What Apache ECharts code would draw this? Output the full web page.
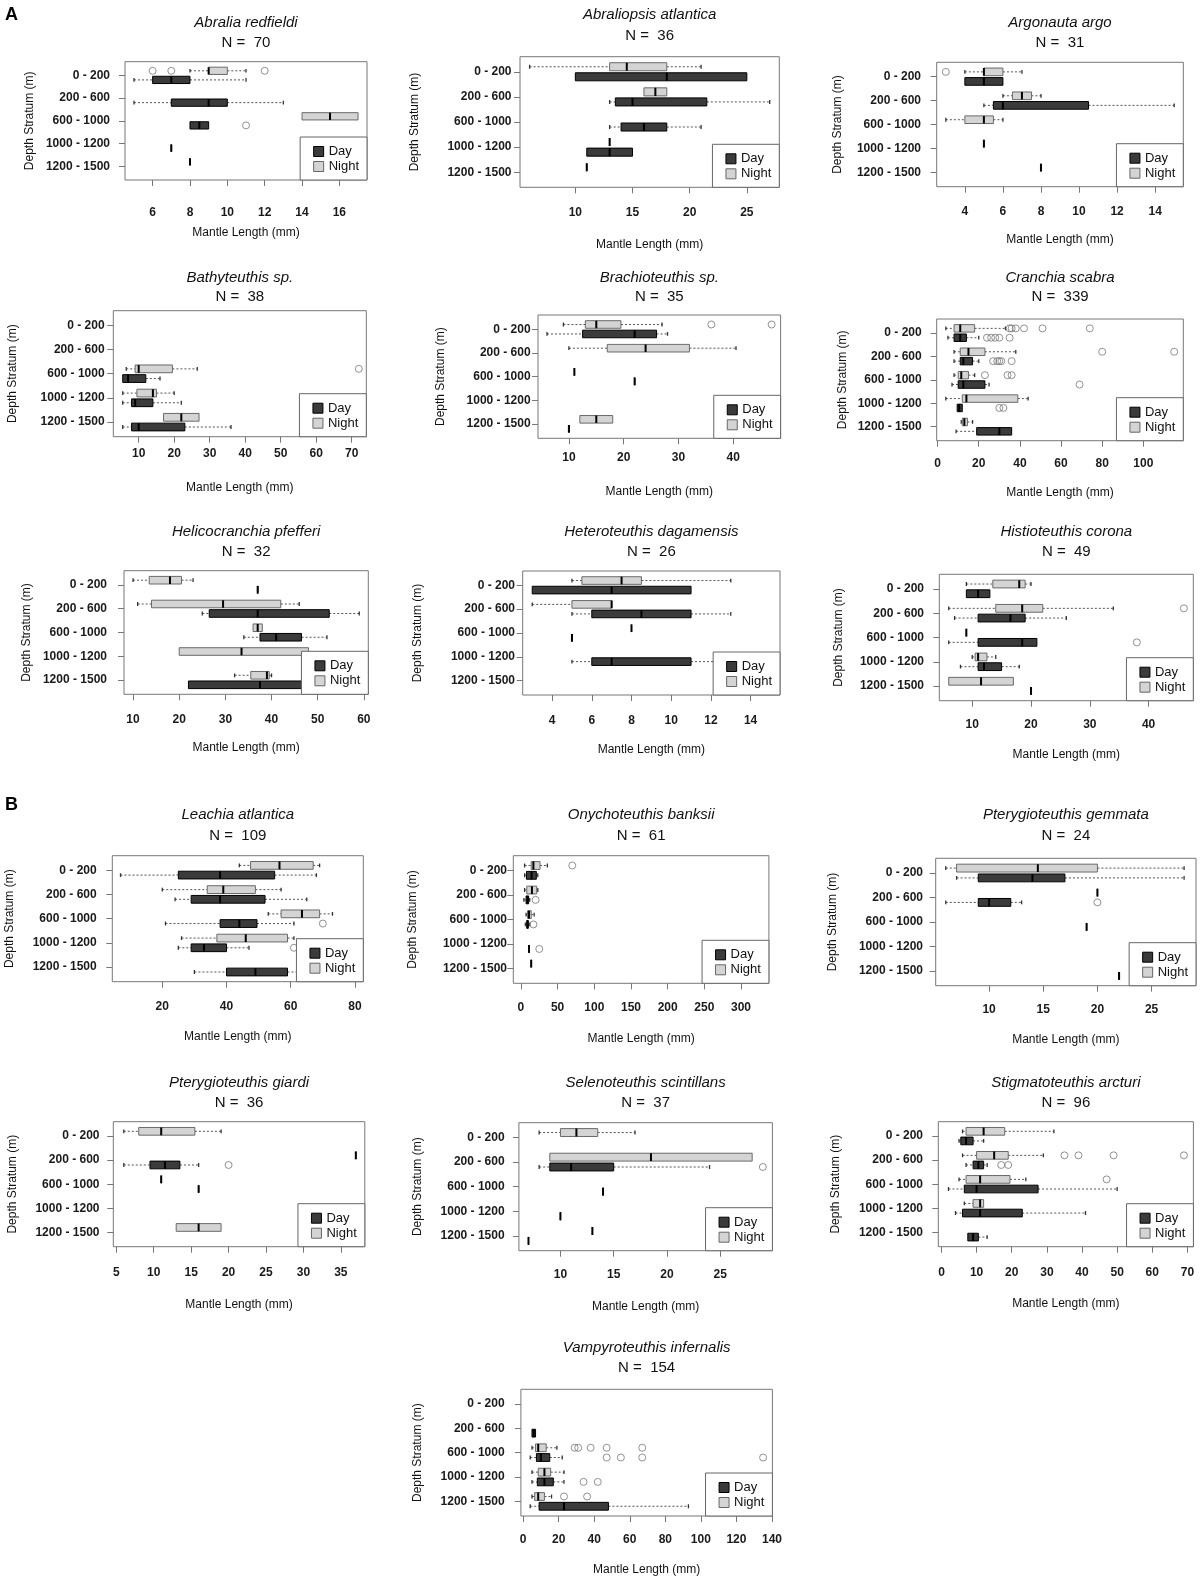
<!DOCTYPE html>
<html>
<head>
<meta charset="utf-8">
<script src="https://cdn.jsdelivr.net/npm/echarts/dist/echarts.min.js"></script>
<style>html,body{margin:0;padding:0;background:#fff}#chart{width:1200px;height:1582px}</style>
</head>
<body>
<div id="chart"></div>
<script>
// ---------- categories / labels ----------
const strata = ['0 - 200', '200 - 600', '600 - 1000', '1000 - 1200', '1200 - 1500'];
const species = ['Abralia redfieldi', 'Abraliopsis atlantica', 'Argonauta argo', 'Bathyteuthis sp.',
  'Brachioteuthis sp.', 'Cranchia scabra', 'Helicocranchia pfefferi', 'Heteroteuthis dagamensis',
  'Histioteuthis corona', 'Leachia atlantica', 'Onychoteuthis banksii', 'Pterygioteuthis gemmata',
  'Pterygioteuthis giardi', 'Selenoteuthis scintillans', 'Stigmatoteuthis arcturi', 'Vampyroteuthis infernalis'];
const sampleSizes = [70, 36, 31, 38, 35, 339, 32, 26, 49, 109, 61, 24, 36, 37, 96, 154];
const xTickValues = [
  [6, 8, 10, 12, 14, 16], [10, 15, 20, 25], [4, 6, 8, 10, 12, 14],
  [10, 20, 30, 40, 50, 60, 70], [10, 20, 30, 40], [0, 20, 40, 60, 80, 100],
  [10, 20, 30, 40, 50, 60], [4, 6, 8, 10, 12, 14], [10, 20, 30, 40],
  [20, 40, 60, 80], [0, 50, 100, 150, 200, 250, 300], [10, 15, 20, 25],
  [5, 10, 15, 20, 25, 30, 35], [10, 15, 20, 25], [0, 10, 20, 30, 40, 50, 60, 70],
  [0, 20, 40, 60, 80, 100, 120, 140]
];

// ---------- box statistics per stratum: [min, q1, median, q3, max] ----------
const abraliaNight = [[8, 9, 9, 10, 11], null, [14, 14, 15.5, 17, 17], null, [8, 8, 8, 8, 8]];
const abraliaDay = [[5, 6, 7, 8, 11], [5, 7, 9, 10, 13], [8, 8, 8.5, 9, 9], [7, 7, 7, 7, 7], null];
const abraliaNightOut = [[0, 6], [0, 7], [0, 12]];
const abraliaDayOut = [[2, 11]];

const abraliopsisNight = [[6, 13, 14.5, 18, 21], [16, 16, 17, 18, 18], null, [13, 13, 13, 13, 13], [11, 11, 11, 11, 11]];
const abraliopsisDay = [[10, 10, 18, 25, 25], [13, 13.5, 15, 21.5, 27], [13, 14, 16, 18, 21], [11, 11, 13, 15, 15], null];
const abraliopsisNightOut = [];
const abraliopsisDayOut = [];

const argonautaNight = [[4, 5, 5, 6, 7], [6, 6.5, 7, 7.5, 8], [3, 4, 5, 5.5, 6], [5, 5, 5, 5, 5], [8, 8, 8, 8, 8]];
const argonautaDay = [[4, 4, 5, 6, 6], [5, 5.5, 6, 10.5, 15], null, null, null];
const argonautaNightOut = [[0, 3]];
const argonautaDayOut = [];

const bathyteuthisNight = [null, null, [6.5, 9, 10, 19.5, 26.5], [5.5, 9.5, 14, 15, 20], [17, 17, 22, 27, 27]];
const bathyteuthisDay = [null, null, [5.5, 5.5, 7, 12, 16], [5.5, 8, 9, 14, 22], [5.5, 8, 10, 23, 36]];
const bathyteuthisNightOut = [[2, 72]];
const bathyteuthisDayOut = [];

const brachioteuthisNight = [[9, 13, 15, 19.5, 27], [10, 17, 24, 32, 40.5], [11, 11, 11, 11, 11], null, [12, 12, 15, 18, 18]];
const brachioteuthisDay = [[6, 12.5, 22, 26, 28], null, [22, 22, 22, 22, 22], null, [10, 10, 10, 10, 10]];
const brachioteuthisNightOut = [[0, 36], [0, 47]];
const brachioteuthisDayOut = [];

const cranchiaNight = [[4, 8, 11, 18, 33], [8, 11, 15, 23, 38], [8, 10, 11.5, 15, 18], [4, 12, 14, 39, 44], [11.5, 12, 13, 14.5, 17]];
const cranchiaDay = [[5, 8, 11, 14, 20], [8, 11, 12.5, 17, 20], [7, 10, 12.5, 23, 25], [9.5, 9.5, 10.5, 12, 12], [9, 19, 30, 36, 36]];
const cranchiaNightOut = [[0, 35], [0, 36], [0, 38], [0, 42], [0, 51], [0, 74], [1, 80], [1, 115], [2, 23], [2, 34], [2, 36]];
const cranchiaDayOut = [[0, 24], [0, 26], [0, 28], [0, 30], [0, 35], [1, 27], [1, 29], [1, 30], [1, 31], [1, 36], [2, 69], [3, 30], [3, 32]];

const helicocranchiaNight = [[10, 13.5, 18, 20.5, 23], [11, 14, 29.5, 42, 46], [36, 36, 37, 38, 38], [20, 20, 33.5, 48, 48], [32, 35.5, 39, 39.5, 40]];
const helicocranchiaDay = [[37, 37, 37, 37, 37], [25, 26.5, 37, 52.5, 59], [34, 37.5, 41, 46.5, 52], null, [22, 22, 37.5, 48, 48]];
const helicocranchiaNightOut = [];
const helicocranchiaDayOut = [];

const heteroteuthisNight = [[5, 5.5, 7.5, 8.5, 13], [3, 5, 7, 7, 7], [8, 8, 8, 8, 8], null, null];
const heteroteuthisDay = [[3, 3, 7, 11, 11], [5, 6, 8.5, 11, 13], [5, 5, 5, 5, 5], [5, 6, 7, 11, 15], null];
const heteroteuthisNightOut = [];
const heteroteuthisDayOut = [];

const histioteuthisNight = [[9, 13.5, 18, 19, 20], [6, 14, 18.5, 22, 34], [9, 9, 9, 9, 9], [10, 10.5, 11, 12.5, 14], [6, 6, 11.5, 17, 17]];
const histioteuthisDay = [[9, 9, 11, 13, 13], [7, 11, 16.5, 19, 26], [6, 11, 18.5, 21, 21], [8, 11, 12, 15, 18], [20, 20, 20, 20, 20]];
const histioteuthisNightOut = [[1, 46]];
const histioteuthisDayOut = [[2, 38]];

const leachiaNight = [[44, 47.5, 56.5, 67, 69], [20, 34, 39, 49, 57], [53, 57, 63.5, 69, 73], [26, 37, 46, 59, 61], null];
const leachiaDay = [[7, 25, 38, 55, 68], [24, 29, 38, 52, 65], [21, 38, 44, 49.5, 61], [25, 29, 33, 40, 47], [30, 40, 49, 59, 80]];
const leachiaNightOut = [];
const leachiaDayOut = [[2, 70], [3, 61]];

const onychoteuthisNight = [[5, 14, 17, 26, 36], [5, 8, 15, 21.5, 23], [7, 9, 11, 14, 18], null, [14, 14, 14, 14, 14]];
const onychoteuthisDay = [[5, 7.5, 14.5, 21, 23], [4, 7, 9, 10.5, 12], [6, 8, 9, 10, 12], [11, 11, 11, 11, 11], null];
const onychoteuthisNightOut = [[0, 70]];
const onychoteuthisDayOut = [[1, 20], [2, 17], [3, 25]];

const ptGemmataNight = [[6, 7, 14.5, 20, 28], [20, 20, 20, 20, 20], null, null, null];
const ptGemmataDay = [[7, 9, 14, 17, 28], [6, 9, 10, 12, 13], [19, 19, 19, 19, 19], null, [22, 22, 22, 22, 22]];
const ptGemmataNightOut = [];
const ptGemmataDayOut = [[1, 20]];

const ptGiardiNight = [[6, 8, 11, 15.5, 19], [37, 37, 37, 37, 37], [11, 11, 11, 11, 11], null, [13, 13, 16, 19, 19]];
const ptGiardiDay = [null, [6, 9.5, 11.5, 13.5, 16], [16, 16, 16, 16, 16], null, null];
const ptGiardiNightOut = [];
const ptGiardiDayOut = [[1, 20]];

const selenoteuthisNight = [[8, 10, 11.5, 13.5, 17], [9, 9, 18.5, 28, 28], null, null, [13, 13, 13, 13, 13]];
const selenoteuthisDay = [null, [8, 9, 11, 15, 24], [14, 14, 14, 14, 14], [10, 10, 10, 10, 10], [7, 7, 7, 7, 7]];
const selenoteuthisNightOut = [];
const selenoteuthisDayOut = [[1, 29]];

const stigmatoteuthisNight = [[6, 7, 12, 18, 32], [6, 10, 15, 19, 29], [5, 7, 11, 19.5, 24], [6.5, 9, 11, 12, 12], null];
const stigmatoteuthisDay = [[5, 5.5, 7, 9, 12], [7, 9, 10.5, 12, 13], [2, 6.5, 10, 27.5, 50], [4, 6, 11, 23, 41], [7.5, 7.5, 9, 10.5, 13]];
const stigmatoteuthisNightOut = [[1, 35], [1, 39], [1, 49], [1, 69], [2, 47]];
const stigmatoteuthisDayOut = [[1, 17], [1, 19]];

const vampyroteuthisNight = [null, null, [5, 7, 8.5, 13, 19], [5, 8.5, 12, 15.5, 23], [5, 6.5, 8.5, 12, 16]];
const vampyroteuthisDay = [null, [5, 5, 6, 7, 7], [4, 7.5, 10, 15, 22], [5, 8, 12, 17, 23], [4, 9, 23, 48, 93]];
const vampyroteuthisNightOut = [[2, 29], [2, 31], [2, 38], [2, 47], [2, 67], [4, 23], [4, 36]];
const vampyroteuthisDayOut = [[2, 47], [2, 55], [2, 67], [2, 135], [3, 34], [3, 42]];

const nightStats = [abraliaNight, abraliopsisNight, argonautaNight, bathyteuthisNight, brachioteuthisNight,
  cranchiaNight, helicocranchiaNight, heteroteuthisNight, histioteuthisNight, leachiaNight, onychoteuthisNight,
  ptGemmataNight, ptGiardiNight, selenoteuthisNight, stigmatoteuthisNight, vampyroteuthisNight];
const dayStats = [abraliaDay, abraliopsisDay, argonautaDay, bathyteuthisDay, brachioteuthisDay,
  cranchiaDay, helicocranchiaDay, heteroteuthisDay, histioteuthisDay, leachiaDay, onychoteuthisDay,
  ptGemmataDay, ptGiardiDay, selenoteuthisDay, stigmatoteuthisDay, vampyroteuthisDay];
const nightOutliers = [abraliaNightOut, abraliopsisNightOut, argonautaNightOut, bathyteuthisNightOut,
  brachioteuthisNightOut, cranchiaNightOut, helicocranchiaNightOut, heteroteuthisNightOut, histioteuthisNightOut,
  leachiaNightOut, onychoteuthisNightOut, ptGemmataNightOut, ptGiardiNightOut, selenoteuthisNightOut,
  stigmatoteuthisNightOut, vampyroteuthisNightOut];
const dayOutliers = [abraliaDayOut, abraliopsisDayOut, argonautaDayOut, bathyteuthisDayOut,
  brachioteuthisDayOut, cranchiaDayOut, helicocranchiaDayOut, heteroteuthisDayOut, histioteuthisDayOut,
  leachiaDayOut, onychoteuthisDayOut, ptGemmataDayOut, ptGiardiDayOut, selenoteuthisDayOut,
  stigmatoteuthisDayOut, vampyroteuthisDayOut];

// ---------- layout (pixel boxes of each plot region and axis ranges) ----------
const panels = [
  {l: 125, t: 61.7, r: 367, b: 180, xMin: 4.52, xMax: 17.48, titleY: 23.3, nY: 43.3, yNameX: 30, xNameY: 233, xTickY: 212.3, yTickEnd: 110},
  {l: 520, t: 56.7, r: 779.3, b: 187.3, xMin: 5.16, xMax: 27.84, titleY: 15, nY: 36, yNameX: 415, xNameY: 245, xTickY: 213, yTickEnd: 511.5},
  {l: 936.7, t: 62.3, r: 1183.3, b: 186.7, xMin: 2.52, xMax: 15.48, titleY: 23.3, nY: 43.3, yNameX: 838, xNameY: 240, xTickY: 212, yTickEnd: 921},
  {l: 113.3, t: 310.7, r: 366.3, b: 436.7, xMin: 2.85, xMax: 74.1, titleY: 278, nY: 297, yNameX: 13, xNameY: 488, xTickY: 454, yTickEnd: 104.6},
  {l: 538, t: 315, r: 780.6, b: 438.3, xMin: 4.36, xMax: 48.64, titleY: 278, nY: 297, yNameX: 441, xNameY: 492, xTickY: 458, yTickEnd: 530.6},
  {l: 936.7, t: 319, r: 1183.3, b: 440.7, xMin: -0.44, xMax: 119.44, titleY: 278, nY: 297, yNameX: 843, xNameY: 493, xTickY: 464, yTickEnd: 921.7},
  {l: 124, t: 570.7, r: 368.3, b: 694.3, xMin: 8.04, xMax: 60.96, titleY: 532, nY: 552, yNameX: 27, xNameY: 748, xTickY: 720, yTickEnd: 107},
  {l: 522.7, t: 571, r: 780, b: 695, xMin: 2.52, xMax: 15.48, titleY: 532, nY: 552, yNameX: 418, xNameY: 750, xTickY: 720.7, yTickEnd: 515},
  {l: 939.3, t: 574.3, r: 1193.3, b: 700.7, xMin: 4.4, xMax: 47.6, titleY: 532, nY: 552, yNameX: 839, xNameY: 755, xTickY: 725, yTickEnd: 924},
  {l: 112.3, t: 855.7, r: 363.3, b: 981.7, xMin: 4.44, xMax: 82.6, titleY: 815, nY: 836, yNameX: 10, xNameY: 1037, xTickY: 1006.7, yTickEnd: 96.7},
  {l: 513.3, t: 855.7, r: 768.9, b: 983.3, xMin: -10.4, xMax: 338, titleY: 815, nY: 836, yNameX: 413, xNameY: 1039, xTickY: 1008, yTickEnd: 507},
  {l: 935.7, t: 858.3, r: 1196, b: 985.7, xMin: 5.07, xMax: 29.1, titleY: 815, nY: 836, yNameX: 833, xNameY: 1040, xTickY: 1010, yTickEnd: 923},
  {l: 113.3, t: 1121.7, r: 364.8, b: 1246.7, xMin: 4.6, xMax: 38.2, titleY: 1083, nY: 1103, yNameX: 13, xNameY: 1305, xTickY: 1273, yTickEnd: 99.5},
  {l: 518.9, t: 1122.7, r: 772.4, b: 1250.7, xMin: 6.1, xMax: 29.9, titleY: 1083, nY: 1103, yNameX: 418, xNameY: 1307, xTickY: 1275, yTickEnd: 504.6},
  {l: 938.3, t: 1121.7, r: 1193.4, b: 1246.7, xMin: -0.9, xMax: 71.7, titleY: 1083, nY: 1103, yNameX: 836, xNameY: 1304, xTickY: 1272.7, yTickEnd: 923},
  {l: 520.9, t: 1389.3, r: 772.4, b: 1516, xMin: -1.24, xMax: 140.24, titleY: 1348, nY: 1368, yNameX: 418, xNameY: 1570, xTickY: 1540, yTickEnd: 504.6}
];

const W = 1200, H = 1582;
const FONT = "'Liberation Sans', Arial, sans-serif";
const DAY_FILL = '#3b3b3b', DAY_STROKE = '#000';
const NIGHT_FILL = '#d4d4d4', NIGHT_STROKE = '#6a6a6a';
const BOX_H = 0.32, OFFSET = 0.2;

function makeRender(offset, fill, stroke) {
  return function (params, api) {
    const pos = api.value(0) + offset;
    const v = [api.value(1), api.value(2), api.value(3), api.value(4), api.value(5)];
    const p = v.map(x => api.coord([x, pos]));
    const cy = p[0][1];
    const h = Math.abs(api.size([0, BOX_H])[1]);
    const half = h / 2;
    const st = half * 0.5;
    const dash = {stroke: '#555', lineWidth: 1, lineDash: [2, 2]};
    const staple = {stroke: '#333', lineWidth: 1.3};
    const ch = [];
    if (v[0] < v[1]) {
      ch.push({type: 'line', shape: {x1: p[0][0], y1: cy, x2: p[1][0], y2: cy}, style: dash});
      ch.push({type: 'line', shape: {x1: p[0][0], y1: cy - st, x2: p[0][0], y2: cy + st}, style: staple});
    }
    if (v[4] > v[3]) {
      ch.push({type: 'line', shape: {x1: p[3][0], y1: cy, x2: p[4][0], y2: cy}, style: dash});
      ch.push({type: 'line', shape: {x1: p[4][0], y1: cy - st, x2: p[4][0], y2: cy + st}, style: staple});
    }
    ch.push({type: 'rect', shape: {x: p[1][0], y: cy - half, width: p[3][0] - p[1][0], height: h},
      style: {fill: fill, stroke: stroke, lineWidth: 1}});
    ch.push({type: 'line', shape: {x1: p[2][0], y1: cy - half, x2: p[2][0], y2: cy + half},
      style: {stroke: '#000', lineWidth: 2}});
    return {type: 'group', children: ch};
  };
}

const option = {
  animation: false,
  backgroundColor: '#fff',
  title: [
    {text: 'A', left: 5, top: 6, padding: 0, textStyle: {fontSize: 18, fontWeight: 'bold', color: '#000', fontFamily: FONT}},
    {text: 'B', left: 5, top: 796, padding: 0, textStyle: {fontSize: 18, fontWeight: 'bold', color: '#000', fontFamily: FONT}}
  ],
  grid: [], xAxis: [], yAxis: [], legend: [], series: []
};

panels.forEach((p, i) => {
  const fs = 15;
  option.title.push({
    text: species[i], subtext: 'N =  ' + sampleSizes[i],
    left: (p.l + p.r) / 2, top: p.titleY - fs / 2, padding: 0, textAlign: 'center',
    itemGap: (p.nY - p.titleY) - fs,
    textStyle: {fontSize: fs, fontStyle: 'italic', fontWeight: 'normal', color: '#111', fontFamily: FONT},
    subtextStyle: {fontSize: fs, color: '#111', fontFamily: FONT}
  });
  option.grid.push({left: p.l, top: p.t, width: p.r - p.l, height: p.b - p.t, show: true,
    borderColor: '#777', borderWidth: 1, backgroundColor: 'rgba(0,0,0,0)'});
  option.xAxis.push({
    type: 'value', gridIndex: i, min: p.xMin, max: p.xMax,
    name: 'Mantle Length (mm)', nameLocation: 'middle', nameGap: p.xNameY - 6 - p.b,
    nameTextStyle: {fontSize: 12, color: '#111', fontFamily: FONT},
    axisLine: {show: false, onZero: false},
    axisTick: {show: true, length: 6, customValues: xTickValues[i], lineStyle: {color: '#777'}},
    axisLabel: {customValues: xTickValues[i], margin: p.xTickY - 6 - p.b, fontSize: 12, fontWeight: 'bold',
      color: '#1a1a1a', fontFamily: FONT},
    splitLine: {show: false}
  });
  option.yAxis.push({
    type: 'value', gridIndex: i, min: 0.4, max: 5.6, inverse: true,
    name: 'Depth Stratum (m)', nameLocation: 'middle', nameGap: p.l - p.yNameX - 6,
    nameTextStyle: {fontSize: 12, color: '#111', fontFamily: FONT},
    axisLine: {show: false, onZero: false},
    axisTick: {show: true, length: 6, customValues: [1, 2, 3, 4, 5], lineStyle: {color: '#777'}},
    axisLabel: {customValues: [1, 2, 3, 4, 5], formatter: v => strata[Math.round(v) - 1] || '',
      margin: p.l - p.yTickEnd, fontSize: 12, fontWeight: 'bold', color: '#1a1a1a', fontFamily: FONT},
    splitLine: {show: false}
  });
  option.legend.push({
    right: W - p.r, bottom: H - p.b, orient: 'vertical', selectedMode: false,
    backgroundColor: '#fff', borderColor: '#666', borderWidth: 1, borderRadius: 0,
    padding: [8, 8, 7, 13], itemWidth: 10, itemHeight: 10, itemGap: 2, icon: 'rect',
    textStyle: {fontSize: 13, color: '#111', fontFamily: FONT},
    data: [
      {name: 'Day', itemStyle: {color: DAY_FILL, borderColor: '#000', borderWidth: 1}},
      {name: 'Night', itemStyle: {color: NIGHT_FILL, borderColor: '#666', borderWidth: 1}}
    ]
  });
  const toItems = arr => arr.map((s, k) => s ? [k + 1].concat(s) : null).filter(Boolean);
  option.series.push({
    type: 'custom', name: 'Night', xAxisIndex: i, yAxisIndex: i, clip: true, z: 2,
    itemStyle: {color: NIGHT_FILL},
    encode: {x: [1, 2, 3, 4, 5], y: 0},
    renderItem: makeRender(-OFFSET, NIGHT_FILL, NIGHT_STROKE),
    data: toItems(nightStats[i])
  });
  option.series.push({
    type: 'custom', name: 'Day', xAxisIndex: i, yAxisIndex: i, clip: true, z: 2,
    itemStyle: {color: DAY_FILL},
    encode: {x: [1, 2, 3, 4, 5], y: 0},
    renderItem: makeRender(OFFSET, DAY_FILL, DAY_STROKE),
    data: toItems(dayStats[i])
  });
  const outStyle = {color: 'rgba(0,0,0,0)', borderColor: '#777', borderWidth: 1};
  option.series.push({
    type: 'scatter', name: 'Night outliers', xAxisIndex: i, yAxisIndex: i, z: 3,
    symbol: 'circle', symbolSize: 7, itemStyle: outStyle, silent: true,
    data: nightOutliers[i].map(o => [o[1], o[0] + 1 - OFFSET])
  });
  option.series.push({
    type: 'scatter', name: 'Day outliers', xAxisIndex: i, yAxisIndex: i, z: 3,
    symbol: 'circle', symbolSize: 7, itemStyle: outStyle, silent: true,
    data: dayOutliers[i].map(o => [o[1], o[0] + 1 + OFFSET])
  });
});

const chart = echarts.init(document.getElementById('chart'), null, {renderer: 'canvas'});
chart.setOption(option);
</script>
</body>
</html>
